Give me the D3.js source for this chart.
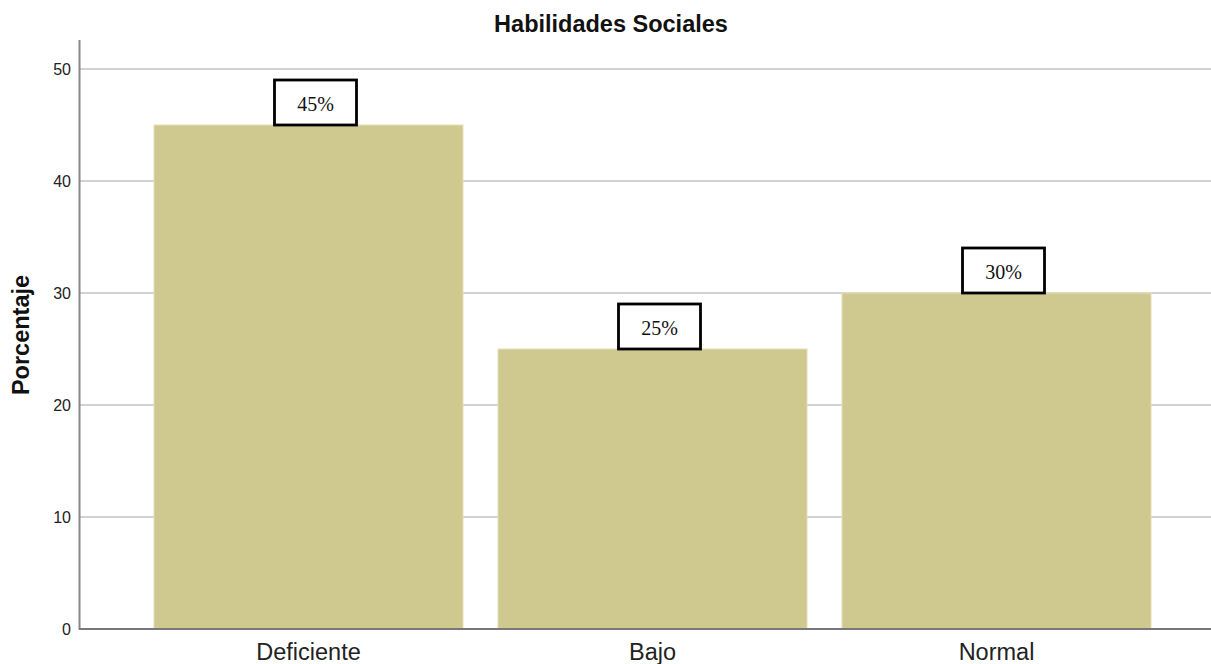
<!DOCTYPE html>
<html><head><meta charset="utf-8">
<script src="https://cdn.jsdelivr.net/npm/d3@7"></script>
<style>body{margin:0;background:#fff}svg{display:block}</style>
</head><body>
<svg id="c" width="1211" height="664"></svg>
<script>
const categories = ["Deficiente", "Bajo", "Normal"];
const values = [45, 25, 30];
const valueLabels = ["45%", "25%", "30%"];
const yTicks = [0, 10, 20, 30, 40, 50];

const svg = d3.select("#c");
const y = d3.scaleLinear().domain([0, 50]).range([629, 69]);
const x = d3.scaleBand().domain(categories).range([119, 1186]).padding(0.1017);
const sans = "Arial, 'Liberation Sans', sans-serif";

// grid
svg.append("g").selectAll("line").data(yTicks.filter(d => d > 0)).join("line")
  .attr("x1", 80).attr("x2", 1211).attr("y1", d => y(d)).attr("y2", d => y(d))
  .attr("stroke", "#d2d2d2").attr("stroke-width", 2);

// bars
svg.append("g").selectAll("rect").data(values).join("rect")
  .attr("x", (d, i) => x(categories[i])).attr("width", x.bandwidth())
  .attr("y", d => y(d)).attr("height", d => y(0) - y(d))
  .attr("fill", "#cfc98f").attr("stroke", "#e4dfb8").attr("stroke-width", 1);

// axes
const yAxis = d3.axisLeft(y).tickValues(yTicks).tickSize(0).tickPadding(9);
const gy = svg.append("g").attr("transform", "translate(80,0)").call(yAxis);
gy.select(".domain").remove();
gy.selectAll("text").attr("font-family", sans).attr("font-size", 16).attr("fill", "#222");
svg.append("line").attr("x1", 79.5).attr("x2", 79.5).attr("y1", 40).attr("y2", 629.5).attr("stroke", "#888").attr("stroke-width", 2);
svg.append("line").attr("x1", 79).attr("x2", 1211).attr("y1", 629).attr("y2", 629).attr("stroke", "#777").attr("stroke-width", 2);

const xAxis = d3.axisBottom(x).tickSize(0).tickPadding(14);
const gx = svg.append("g").attr("transform", "translate(0,629)").call(xAxis);
gx.select(".domain").remove();
gx.selectAll("text").attr("font-family", sans).attr("font-size", 23.5).attr("fill", "#222");

// value label boxes
const lab = svg.append("g").selectAll("g").data(values).join("g")
  .attr("transform", (d, i) => `translate(${x(categories[i]) + x.bandwidth() / 2 + 7},${y(d)})`);
lab.append("rect").attr("x", -41).attr("y", -45).attr("width", 82).attr("height", 45)
  .attr("fill", "#fff").attr("stroke", "#000").attr("stroke-width", 2.8);
lab.append("text").attr("y", -14).attr("text-anchor", "middle")
  .attr("font-family", "'Liberation Serif', 'Times New Roman', serif").attr("font-size", 20).attr("fill", "#111")
  .text((d, i) => valueLabels[i]);

// title
svg.append("text").attr("x", 611).attr("y", 32).attr("text-anchor", "middle")
  .attr("font-family", sans).attr("font-weight", "bold").attr("font-size", 23.5).attr("fill", "#111")
  .text("Habilidades Sociales");
svg.append("text").attr("transform", "translate(29,335) rotate(-90)").attr("text-anchor", "middle")
  .attr("font-family", sans).attr("font-weight", "bold").attr("font-size", 23.5).attr("fill", "#111")
  .text("Porcentaje");
</script>
</body></html>
